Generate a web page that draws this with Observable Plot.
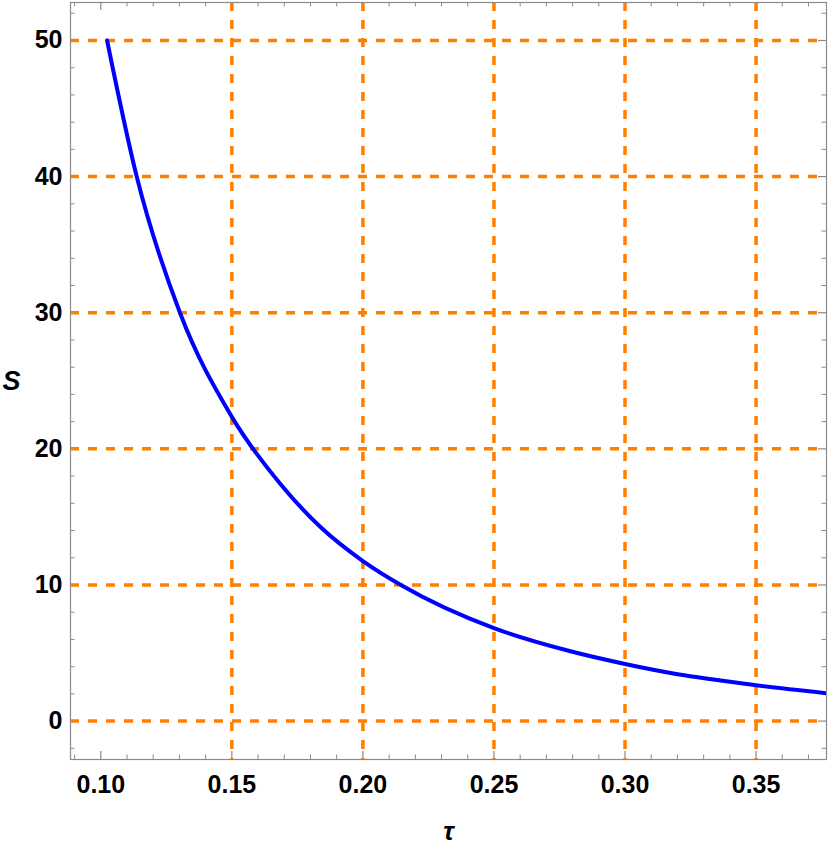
<!DOCTYPE html>
<html>
<head>
<meta charset="utf-8">
<script src="https://cdn.jsdelivr.net/npm/d3@7"></script>
<script src="https://cdn.jsdelivr.net/npm/@observablehq/plot@0.6"></script>
<style>
  html, body { margin: 0; padding: 0; background: #fff; }
</style>
</head>
<body>
<div id="chart"></div>
<script>
// Curve S(τ)
const tau = [0.1024, 0.1137, 0.1302, 0.15, 0.1686, 0.1839, 0.20, 0.2145, 0.25, 0.2792, 0.30, 0.3174, 0.3365, 0.35, 0.3769];
const S   = [50, 40, 30, 22.35, 17.4, 14.24, 11.76, 10, 6.83, 5.13, 4.2, 3.54, 2.98, 2.63, 2.05];

// Tick values
const xTicks = [0.10, 0.15, 0.20, 0.25, 0.30, 0.35];
const xGrid  = [0.15, 0.20, 0.25, 0.30, 0.35];
const yTicks = [0, 10, 20, 30, 40, 50];
const yGrid  = [0, 10, 20, 30, 40, 50];
const xMinor = d3.range(9, 38).map(v => v / 100).filter(v => !xTicks.some(m => Math.abs(m - v) < 1e-9));
const yMinor = d3.range(-2, 53, 2).filter(v => v % 10 !== 0);

const data = tau.map((t, i) => ({tau: t, S: S[i]}));

const W = 830, H = 847;
const mL = 70, mR = 4, mT = 2, mB = 88;
const pw = W - mL - mR, ph = H - mT - mB;
const frameColor = "#8a8a8a";
const orange = "#ff8000";

const chart = Plot.plot({
  width: W,
  height: H,
  marginLeft: mL,
  marginRight: mR,
  marginTop: mT,
  marginBottom: mB,
  style: {fontFamily: "'Liberation Sans', Arial, sans-serif", background: "#fff", color: "#000"},
  x: {domain: [0.08844, 0.37687], axis: null},
  y: {domain: [-2.82, 52.79], axis: null},
  marks: [
    // inward ticks: left / right
    Plot.tickY(yTicks, {y: d => d, insetRight: pw - 8, stroke: frameColor, strokeWidth: 1.2}),
    Plot.tickY(yMinor, {y: d => d, insetRight: pw - 4.5, stroke: frameColor, strokeWidth: 1}),
    Plot.tickY(yTicks, {y: d => d, insetLeft: pw - 8, stroke: frameColor, strokeWidth: 1.2}),
    Plot.tickY(yMinor, {y: d => d, insetLeft: pw - 4.5, stroke: frameColor, strokeWidth: 1}),
    // inward ticks: bottom / top
    Plot.tickX(xTicks, {x: d => d, insetTop: ph - 8, stroke: frameColor, strokeWidth: 1.2}),
    Plot.tickX(xMinor, {x: d => d, insetTop: ph - 4.5, stroke: frameColor, strokeWidth: 1}),
    Plot.tickX(xTicks, {x: d => d, insetBottom: ph - 8, stroke: frameColor, strokeWidth: 1.2}),
    Plot.tickX(xMinor, {x: d => d, insetBottom: ph - 4.5, stroke: frameColor, strokeWidth: 1}),
    // dashed orange grid
    Plot.ruleY(yGrid, {y: d => d, stroke: orange, strokeWidth: 3.5, strokeDasharray: "9,9"}),
    Plot.ruleX(xGrid, {x: d => d, stroke: orange, strokeWidth: 3.5, strokeDasharray: "9,9"}),
    // curve
    Plot.line(data, {x: "tau", y: "S", stroke: "#0000ff", strokeWidth: 4, curve: "monotone-x", clip: true}),
    Plot.frame({stroke: frameColor, strokeWidth: 1.2}),
    // axes labels
    Plot.axisY(yTicks, {tickSize: 0, tickPadding: 8, tickFormat: d => String(d), fontSize: 25, fontWeight: "bold", label: null}),
    Plot.axisX(xTicks, {tickSize: 0, tickPadding: 16, tickFormat: d3.format(".2f"), fontSize: 25, fontWeight: "bold", label: null}),
    Plot.text(["S"], {text: d => d, frameAnchor: "left", dx: -59, textAnchor: "middle", fontSize: 27, fontWeight: "bold", fontStyle: "italic"}),
    Plot.text(["τ"], {text: d => d, frameAnchor: "bottom", dy: 72, textAnchor: "middle", lineAnchor: "middle", fontSize: 26, fontWeight: "bold", fontStyle: "italic"})
  ]
});

document.getElementById("chart").appendChild(chart);
</script>
</body>
</html>
